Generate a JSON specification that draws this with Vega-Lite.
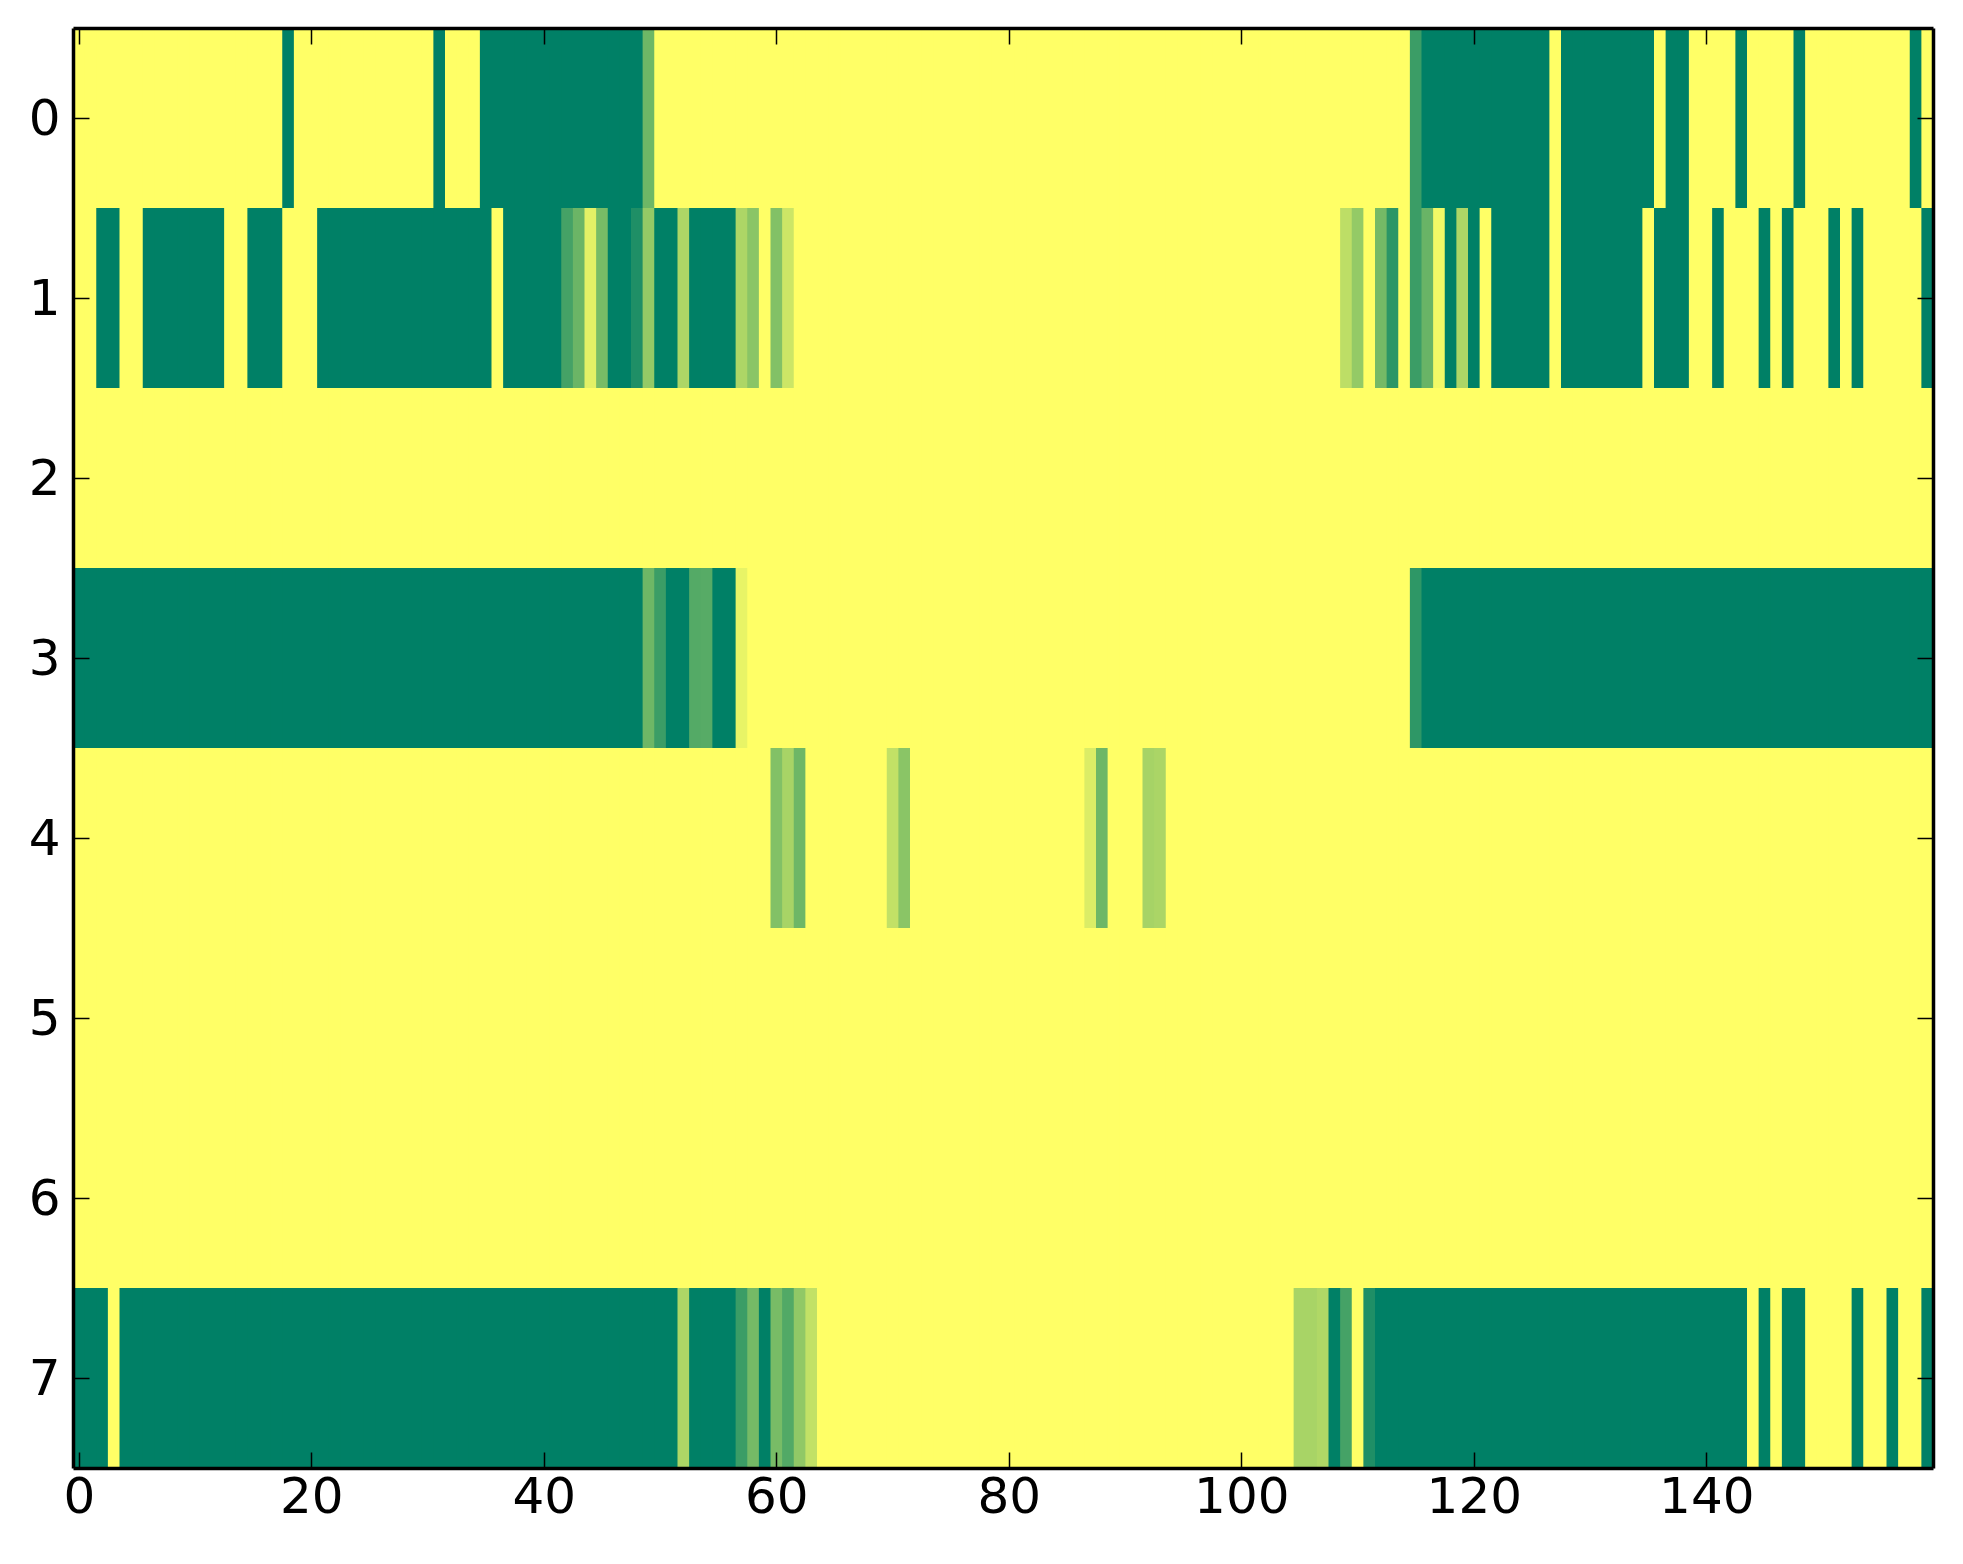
{"$schema":"https://vega.github.io/schema/vega-lite/v6.json","width":1860,"height":1440,"autosize":"none","padding":{"left":73,"top":28,"right":30,"bottom":96},"background":"white","view":{"stroke":null},
"data":{"values":[
{"c":0,"0":0,"1":0,"2":0,"3":1,"4":0,"5":0,"6":0,"7":1},
{"c":1,"0":0,"1":0,"2":0,"3":1,"4":0,"5":0,"6":0,"7":1},
{"c":2,"0":0,"1":1,"2":0,"3":1,"4":0,"5":0,"6":0,"7":1},
{"c":3,"0":0,"1":1,"2":0,"3":1,"4":0,"5":0,"6":0,"7":0},
{"c":4,"0":0,"1":0,"2":0,"3":1,"4":0,"5":0,"6":0,"7":1},
{"c":5,"0":0,"1":0,"2":0,"3":1,"4":0,"5":0,"6":0,"7":1},
{"c":6,"0":0,"1":1,"2":0,"3":1,"4":0,"5":0,"6":0,"7":1},
{"c":7,"0":0,"1":1,"2":0,"3":1,"4":0,"5":0,"6":0,"7":1},
{"c":8,"0":0,"1":1,"2":0,"3":1,"4":0,"5":0,"6":0,"7":1},
{"c":9,"0":0,"1":1,"2":0,"3":1,"4":0,"5":0,"6":0,"7":1},
{"c":10,"0":0,"1":1,"2":0,"3":1,"4":0,"5":0,"6":0,"7":1},
{"c":11,"0":0,"1":1,"2":0,"3":1,"4":0,"5":0,"6":0,"7":1},
{"c":12,"0":0,"1":1,"2":0,"3":1,"4":0,"5":0,"6":0,"7":1},
{"c":13,"0":0,"1":0,"2":0,"3":1,"4":0,"5":0,"6":0,"7":1},
{"c":14,"0":0,"1":0,"2":0,"3":1,"4":0,"5":0,"6":0,"7":1},
{"c":15,"0":0,"1":1,"2":0,"3":1,"4":0,"5":0,"6":0,"7":1},
{"c":16,"0":0,"1":1,"2":0,"3":1,"4":0,"5":0,"6":0,"7":1},
{"c":17,"0":0,"1":1,"2":0,"3":1,"4":0,"5":0,"6":0,"7":1},
{"c":18,"0":1,"1":0,"2":0,"3":1,"4":0,"5":0,"6":0,"7":1},
{"c":19,"0":0,"1":0,"2":0,"3":1,"4":0,"5":0,"6":0,"7":1},
{"c":20,"0":0,"1":0,"2":0,"3":1,"4":0,"5":0,"6":0,"7":1},
{"c":21,"0":0,"1":1,"2":0,"3":1,"4":0,"5":0,"6":0,"7":1},
{"c":22,"0":0,"1":1,"2":0,"3":1,"4":0,"5":0,"6":0,"7":1},
{"c":23,"0":0,"1":1,"2":0,"3":1,"4":0,"5":0,"6":0,"7":1},
{"c":24,"0":0,"1":1,"2":0,"3":1,"4":0,"5":0,"6":0,"7":1},
{"c":25,"0":0,"1":1,"2":0,"3":1,"4":0,"5":0,"6":0,"7":1},
{"c":26,"0":0,"1":1,"2":0,"3":1,"4":0,"5":0,"6":0,"7":1},
{"c":27,"0":0,"1":1,"2":0,"3":1,"4":0,"5":0,"6":0,"7":1},
{"c":28,"0":0,"1":1,"2":0,"3":1,"4":0,"5":0,"6":0,"7":1},
{"c":29,"0":0,"1":1,"2":0,"3":1,"4":0,"5":0,"6":0,"7":1},
{"c":30,"0":0,"1":1,"2":0,"3":1,"4":0,"5":0,"6":0,"7":1},
{"c":31,"0":1,"1":1,"2":0,"3":1,"4":0,"5":0,"6":0,"7":1},
{"c":32,"0":0,"1":1,"2":0,"3":1,"4":0,"5":0,"6":0,"7":1},
{"c":33,"0":0,"1":1,"2":0,"3":1,"4":0,"5":0,"6":0,"7":1},
{"c":34,"0":0,"1":1,"2":0,"3":1,"4":0,"5":0,"6":0,"7":1},
{"c":35,"0":1,"1":1,"2":0,"3":1,"4":0,"5":0,"6":0,"7":1},
{"c":36,"0":1,"1":0,"2":0,"3":1,"4":0,"5":0,"6":0,"7":1},
{"c":37,"0":1,"1":1,"2":0,"3":1,"4":0,"5":0,"6":0,"7":1},
{"c":38,"0":1,"1":1,"2":0,"3":1,"4":0,"5":0,"6":0,"7":1},
{"c":39,"0":1,"1":1,"2":0,"3":1,"4":0,"5":0,"6":0,"7":1},
{"c":40,"0":1,"1":1,"2":0,"3":1,"4":0,"5":0,"6":0,"7":1},
{"c":41,"0":1,"1":1,"2":0,"3":1,"4":0,"5":0,"6":0,"7":1},
{"c":42,"0":1,"1":0.73,"2":0,"3":1,"4":0,"5":0,"6":0,"7":1},
{"c":43,"0":1,"1":0.58,"2":0,"3":1,"4":0,"5":0,"6":0,"7":1},
{"c":44,"0":1,"1":0.11,"2":0,"3":1,"4":0,"5":0,"6":0,"7":1},
{"c":45,"0":1,"1":0.53,"2":0,"3":1,"4":0,"5":0,"6":0,"7":1},
{"c":46,"0":1,"1":1,"2":0,"3":1,"4":0,"5":0,"6":0,"7":1},
{"c":47,"0":1,"1":1,"2":0,"3":1,"4":0,"5":0,"6":0,"7":1},
{"c":48,"0":1,"1":0.88,"2":0,"3":1,"4":0,"5":0,"6":0,"7":1},
{"c":49,"0":0.57,"1":0.42,"2":0,"3":0.57,"4":0,"5":0,"6":0,"7":1},
{"c":50,"0":0,"1":1,"2":0,"3":0.77,"4":0,"5":0,"6":0,"7":1},
{"c":51,"0":0,"1":1,"2":0,"3":1,"4":0,"5":0,"6":0,"7":1},
{"c":52,"0":0,"1":0.32,"2":0,"3":1,"4":0,"5":0,"6":0,"7":0.32},
{"c":53,"0":0,"1":1,"2":0,"3":0.67,"4":0,"5":0,"6":0,"7":1},
{"c":54,"0":0,"1":1,"2":0,"3":0.66,"4":0,"5":0,"6":0,"7":1},
{"c":55,"0":0,"1":1,"2":0,"3":1,"4":0,"5":0,"6":0,"7":1},
{"c":56,"0":0,"1":1,"2":0,"3":1,"4":0,"5":0,"6":0,"7":1},
{"c":57,"0":0,"1":0.32,"2":0,"3":0.09,"4":0,"5":0,"6":0,"7":0.77},
{"c":58,"0":0,"1":0.46,"2":0,"3":0,"4":0,"5":0,"6":0,"7":0.54},
{"c":59,"0":0,"1":0,"2":0,"3":0,"4":0,"5":0,"6":0,"7":1},
{"c":60,"0":0,"1":0.49,"2":0,"3":0,"4":0.49,"5":0,"6":0,"7":0.53},
{"c":61,"0":0,"1":0.2,"2":0,"3":0,"4":0.34,"5":0,"6":0,"7":0.68},
{"c":62,"0":0,"1":0,"2":0,"3":0,"4":0.57,"5":0,"6":0,"7":0.43},
{"c":63,"0":0,"1":0,"2":0,"3":0,"4":0,"5":0,"6":0,"7":0.24},
{"c":64,"0":0,"1":0,"2":0,"3":0,"4":0,"5":0,"6":0,"7":0},
{"c":65,"0":0,"1":0,"2":0,"3":0,"4":0,"5":0,"6":0,"7":0},
{"c":66,"0":0,"1":0,"2":0,"3":0,"4":0,"5":0,"6":0,"7":0},
{"c":67,"0":0,"1":0,"2":0,"3":0,"4":0,"5":0,"6":0,"7":0},
{"c":68,"0":0,"1":0,"2":0,"3":0,"4":0,"5":0,"6":0,"7":0},
{"c":69,"0":0,"1":0,"2":0,"3":0,"4":0,"5":0,"6":0,"7":0},
{"c":70,"0":0,"1":0,"2":0,"3":0,"4":0.24,"5":0,"6":0,"7":0},
{"c":71,"0":0,"1":0,"2":0,"3":0,"4":0.46,"5":0,"6":0,"7":0},
{"c":72,"0":0,"1":0,"2":0,"3":0,"4":0,"5":0,"6":0,"7":0},
{"c":73,"0":0,"1":0,"2":0,"3":0,"4":0,"5":0,"6":0,"7":0},
{"c":74,"0":0,"1":0,"2":0,"3":0,"4":0,"5":0,"6":0,"7":0},
{"c":75,"0":0,"1":0,"2":0,"3":0,"4":0,"5":0,"6":0,"7":0},
{"c":76,"0":0,"1":0,"2":0,"3":0,"4":0,"5":0,"6":0,"7":0},
{"c":77,"0":0,"1":0,"2":0,"3":0,"4":0,"5":0,"6":0,"7":0},
{"c":78,"0":0,"1":0,"2":0,"3":0,"4":0,"5":0,"6":0,"7":0},
{"c":79,"0":0,"1":0,"2":0,"3":0,"4":0,"5":0,"6":0,"7":0},
{"c":80,"0":0,"1":0,"2":0,"3":0,"4":0,"5":0,"6":0,"7":0},
{"c":81,"0":0,"1":0,"2":0,"3":0,"4":0,"5":0,"6":0,"7":0},
{"c":82,"0":0,"1":0,"2":0,"3":0,"4":0,"5":0,"6":0,"7":0},
{"c":83,"0":0,"1":0,"2":0,"3":0,"4":0,"5":0,"6":0,"7":0},
{"c":84,"0":0,"1":0,"2":0,"3":0,"4":0,"5":0,"6":0,"7":0},
{"c":85,"0":0,"1":0,"2":0,"3":0,"4":0,"5":0,"6":0,"7":0},
{"c":86,"0":0,"1":0,"2":0,"3":0,"4":0,"5":0,"6":0,"7":0},
{"c":87,"0":0,"1":0,"2":0,"3":0,"4":0.14,"5":0,"6":0,"7":0},
{"c":88,"0":0,"1":0,"2":0,"3":0,"4":0.57,"5":0,"6":0,"7":0},
{"c":89,"0":0,"1":0,"2":0,"3":0,"4":0,"5":0,"6":0,"7":0},
{"c":90,"0":0,"1":0,"2":0,"3":0,"4":0,"5":0,"6":0,"7":0},
{"c":91,"0":0,"1":0,"2":0,"3":0,"4":0,"5":0,"6":0,"7":0},
{"c":92,"0":0,"1":0,"2":0,"3":0,"4":0.35,"5":0,"6":0,"7":0},
{"c":93,"0":0,"1":0,"2":0,"3":0,"4":0.33,"5":0,"6":0,"7":0},
{"c":94,"0":0,"1":0,"2":0,"3":0,"4":0,"5":0,"6":0,"7":0},
{"c":95,"0":0,"1":0,"2":0,"3":0,"4":0,"5":0,"6":0,"7":0},
{"c":96,"0":0,"1":0,"2":0,"3":0,"4":0,"5":0,"6":0,"7":0},
{"c":97,"0":0,"1":0,"2":0,"3":0,"4":0,"5":0,"6":0,"7":0},
{"c":98,"0":0,"1":0,"2":0,"3":0,"4":0,"5":0,"6":0,"7":0},
{"c":99,"0":0,"1":0,"2":0,"3":0,"4":0,"5":0,"6":0,"7":0},
{"c":100,"0":0,"1":0,"2":0,"3":0,"4":0,"5":0,"6":0,"7":0},
{"c":101,"0":0,"1":0,"2":0,"3":0,"4":0,"5":0,"6":0,"7":0},
{"c":102,"0":0,"1":0,"2":0,"3":0,"4":0,"5":0,"6":0,"7":0},
{"c":103,"0":0,"1":0,"2":0,"3":0,"4":0,"5":0,"6":0,"7":0},
{"c":104,"0":0,"1":0,"2":0,"3":0,"4":0,"5":0,"6":0,"7":0},
{"c":105,"0":0,"1":0,"2":0,"3":0,"4":0,"5":0,"6":0,"7":0.34},
{"c":106,"0":0,"1":0,"2":0,"3":0,"4":0,"5":0,"6":0,"7":0.34},
{"c":107,"0":0,"1":0,"2":0,"3":0,"4":0,"5":0,"6":0,"7":0.31},
{"c":108,"0":0,"1":0,"2":0,"3":0,"4":0,"5":0,"6":0,"7":1},
{"c":109,"0":0,"1":0.26,"2":0,"3":0,"4":0,"5":0,"6":0,"7":0.73},
{"c":110,"0":0,"1":0.42,"2":0,"3":0,"4":0,"5":0,"6":0,"7":0},
{"c":111,"0":0,"1":0,"2":0,"3":0,"4":0,"5":0,"6":0,"7":0.88},
{"c":112,"0":0,"1":0.54,"2":0,"3":0,"4":0,"5":0,"6":0,"7":1},
{"c":113,"0":0,"1":0.83,"2":0,"3":0,"4":0,"5":0,"6":0,"7":1},
{"c":114,"0":0,"1":0,"2":0,"3":0,"4":0,"5":0,"6":0,"7":1},
{"c":115,"0":0.77,"1":0.77,"2":0,"3":0.82,"4":0,"5":0,"6":0,"7":1},
{"c":116,"0":1,"1":0.59,"2":0,"3":1,"4":0,"5":0,"6":0,"7":1},
{"c":117,"0":1,"1":0.05,"2":0,"3":1,"4":0,"5":0,"6":0,"7":1},
{"c":118,"0":1,"1":1,"2":0,"3":1,"4":0,"5":0,"6":0,"7":1},
{"c":119,"0":1,"1":0.32,"2":0,"3":1,"4":0,"5":0,"6":0,"7":1},
{"c":120,"0":1,"1":1,"2":0,"3":1,"4":0,"5":0,"6":0,"7":1},
{"c":121,"0":1,"1":0,"2":0,"3":1,"4":0,"5":0,"6":0,"7":1},
{"c":122,"0":1,"1":1,"2":0,"3":1,"4":0,"5":0,"6":0,"7":1},
{"c":123,"0":1,"1":1,"2":0,"3":1,"4":0,"5":0,"6":0,"7":1},
{"c":124,"0":1,"1":1,"2":0,"3":1,"4":0,"5":0,"6":0,"7":1},
{"c":125,"0":1,"1":1,"2":0,"3":1,"4":0,"5":0,"6":0,"7":1},
{"c":126,"0":1,"1":1,"2":0,"3":1,"4":0,"5":0,"6":0,"7":1},
{"c":127,"0":0,"1":0,"2":0,"3":1,"4":0,"5":0,"6":0,"7":1},
{"c":128,"0":1,"1":1,"2":0,"3":1,"4":0,"5":0,"6":0,"7":1},
{"c":129,"0":1,"1":1,"2":0,"3":1,"4":0,"5":0,"6":0,"7":1},
{"c":130,"0":1,"1":1,"2":0,"3":1,"4":0,"5":0,"6":0,"7":1},
{"c":131,"0":1,"1":1,"2":0,"3":1,"4":0,"5":0,"6":0,"7":1},
{"c":132,"0":1,"1":1,"2":0,"3":1,"4":0,"5":0,"6":0,"7":1},
{"c":133,"0":1,"1":1,"2":0,"3":1,"4":0,"5":0,"6":0,"7":1},
{"c":134,"0":1,"1":1,"2":0,"3":1,"4":0,"5":0,"6":0,"7":1},
{"c":135,"0":1,"1":0,"2":0,"3":1,"4":0,"5":0,"6":0,"7":1},
{"c":136,"0":0,"1":1,"2":0,"3":1,"4":0,"5":0,"6":0,"7":1},
{"c":137,"0":1,"1":1,"2":0,"3":1,"4":0,"5":0,"6":0,"7":1},
{"c":138,"0":1,"1":1,"2":0,"3":1,"4":0,"5":0,"6":0,"7":1},
{"c":139,"0":0,"1":0,"2":0,"3":1,"4":0,"5":0,"6":0,"7":1},
{"c":140,"0":0,"1":0,"2":0,"3":1,"4":0,"5":0,"6":0,"7":1},
{"c":141,"0":0,"1":1,"2":0,"3":1,"4":0,"5":0,"6":0,"7":1},
{"c":142,"0":0,"1":0,"2":0,"3":1,"4":0,"5":0,"6":0,"7":1},
{"c":143,"0":1,"1":0,"2":0,"3":1,"4":0,"5":0,"6":0,"7":1},
{"c":144,"0":0,"1":0,"2":0,"3":1,"4":0,"5":0,"6":0,"7":0},
{"c":145,"0":0,"1":1,"2":0,"3":1,"4":0,"5":0,"6":0,"7":1},
{"c":146,"0":0,"1":0,"2":0,"3":1,"4":0,"5":0,"6":0,"7":0},
{"c":147,"0":0,"1":1,"2":0,"3":1,"4":0,"5":0,"6":0,"7":1},
{"c":148,"0":1,"1":0,"2":0,"3":1,"4":0,"5":0,"6":0,"7":1},
{"c":149,"0":0,"1":0,"2":0,"3":1,"4":0,"5":0,"6":0,"7":0},
{"c":150,"0":0,"1":0,"2":0,"3":1,"4":0,"5":0,"6":0,"7":0},
{"c":151,"0":0,"1":1,"2":0,"3":1,"4":0,"5":0,"6":0,"7":0},
{"c":152,"0":0,"1":0,"2":0,"3":1,"4":0,"5":0,"6":0,"7":0},
{"c":153,"0":0,"1":1,"2":0,"3":1,"4":0,"5":0,"6":0,"7":1},
{"c":154,"0":0,"1":0,"2":0,"3":1,"4":0,"5":0,"6":0,"7":0},
{"c":155,"0":0,"1":0,"2":0,"3":1,"4":0,"5":0,"6":0,"7":0},
{"c":156,"0":0,"1":0,"2":0,"3":1,"4":0,"5":0,"6":0,"7":1},
{"c":157,"0":0,"1":0,"2":0,"3":1,"4":0,"5":0,"6":0,"7":0},
{"c":158,"0":1,"1":0,"2":0,"3":1,"4":0,"5":0,"6":0,"7":0},
{"c":159,"0":0,"1":1,"2":0,"3":1,"4":0,"5":0,"6":0,"7":1}
]},
"transform":[{"fold":["0","1","2","3","4","5","6","7"],"as":["row","value"]}],
"resolve":{"axis":{"x":"independent","y":"independent"}},
"layer":[
{"mark":{"type":"rect","width":12.625,"xOffset":0.5,"clip":true},
"encoding":{
"x":{"field":"c","type":"quantitative","scale":{"domain":[-0.5,159.5],"nice":false,"zero":false},
"axis":{"orient":"bottom","title":null,"grid":false,"values":[0,20,40,60,80,100,120,140],"tickSize":-16,"tickWidth":1.5,"tickColor":"black","domainColor":"black","domainWidth":3.5,"labelFont":"DejaVu Sans","labelFontSize":50,"labelColor":"black","labelPadding":20,"labelFlush":false,"labelOverlap":false,"zindex":1}},
"y":{"field":"row","type":"ordinal","scale":{"domain":["0","1","2","3","4","5","6","7"],"paddingInner":0,"paddingOuter":0},
"axis":{"orient":"left","title":null,"grid":false,"tickSize":-16,"tickWidth":1.5,"tickColor":"black","domainColor":"black","domainWidth":3.5,"labelFont":"DejaVu Sans","labelFontSize":50,"labelColor":"black","labelPadding":29,"labelOffset":1.5,"labelAngle":0,"zindex":1}},
"color":{"field":"value","type":"quantitative","legend":null,"scale":{"domain":[0,1],"range":["#ffff66","#008066"],"interpolate":"rgb"}}}},
{"mark":{"type":"rect","width":11.625,"opacity":0},
"encoding":{
"x":{"field":"c","type":"quantitative","scale":{"domain":[-0.5,159.5],"nice":false,"zero":false},
"axis":{"orient":"top","title":null,"grid":false,"values":[0,20,40,60,80,100,120,140],"tickSize":-16,"tickWidth":1.5,"tickColor":"black","domainColor":"black","domainWidth":3.5,"labels":false,"zindex":1}},
"y":{"field":"row","type":"ordinal","scale":{"domain":["0","1","2","3","4","5","6","7"],"paddingInner":0,"paddingOuter":0},
"axis":{"orient":"right","title":null,"grid":false,"tickSize":-16,"tickWidth":1.5,"tickColor":"black","domainColor":"black","domainWidth":3.5,"labels":false,"zindex":1}}}}
]}
